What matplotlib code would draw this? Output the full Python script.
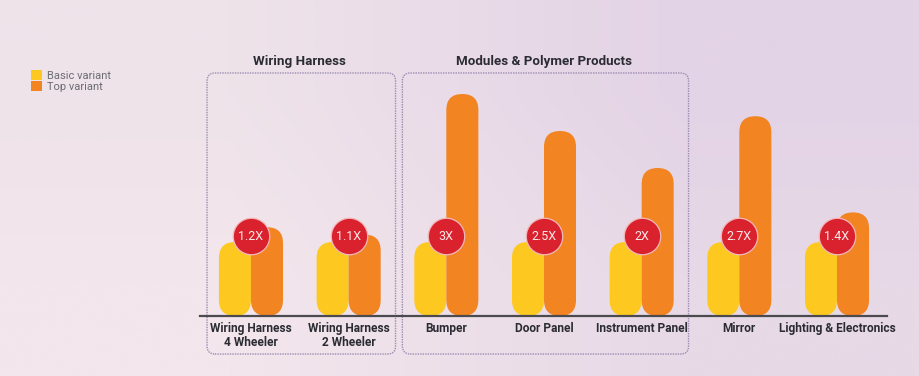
import numpy as np
import matplotlib
matplotlib.use("Agg")
import matplotlib.pyplot as plt
from matplotlib.patches import FancyBboxPatch, Patch

# categories and values (basic variant = 1 unit, top variant = multiple of basic)
categories = ["Wiring Harness\n4 Wheeler", "Wiring Harness\n2 Wheeler", "Bumper",
              "Door Panel", "Instrument Panel", "Mirror", "Lighting & Electronics"]
basic = [1, 1, 1, 1, 1, 1, 1]
top = [1.2, 1.1, 3, 2.5, 2, 2.7, 1.4]
groups = [("Wiring Harness", 0, 1), ("Modules & Polymer Products", 2, 4)]

YELLOW = "#fdc921"
ORANGE = "#f28422"
RED = "#d9222e"
INK = "#2b2b33"

W, H = 919, 376
fig = plt.figure(figsize=(W / 100, H / 100), dpi=100)

# soft diagonal background wash
bg = fig.add_axes([0, 0, 1, 1], zorder=-5)
corners = np.array([[[239, 227, 234], [227, 211, 230]],
                    [[243, 230, 236], [231, 217, 230]]]) / 255
bg.imshow(corners, extent=[0, 1, 0, 1], aspect="auto", interpolation="bilinear")
bg.set_axis_off()

ax = fig.add_axes([200 / W, (H - 316) / H, 687 / W, 243 / H])
ax.set_facecolor("none")
ax.set_xlim(-0.522, 6.512)
ax.set_ylim(0, 3.284)

# pixel scale of each axis, used to keep bar ends round
px_x = 687 / (6.512 + 0.522)
px_y = 243 / 3.284
aspect = px_x / px_y

bw = 0.328
x = np.arange(len(categories))
for i in x:
    for val, off, col in [(basic[i], -bw / 2, YELLOW), (top[i], bw / 2, ORANGE)]:
        p = FancyBboxPatch((i + off - bw / 2, 0), bw, val,
                           boxstyle=f"round,pad=0,rounding_size={bw / 2}",
                           mutation_aspect=aspect, fc=col, ec="none", zorder=2)
        ax.add_patch(p)

# multiplier badges
ax.scatter(x, np.array(basic) + 0.08, s=690, c=RED, edgecolors="#f3b9bb",
           linewidths=0.9, zorder=4)
for i in x:
    ax.text(i, basic[i] + 0.08, f"{top[i]:g}X", color="#fbe9ea", ha="center",
            va="center", fontsize=9, family="Roboto", zorder=5)

# baseline
for s in ["top", "right", "left"]:
    ax.spines[s].set_visible(False)
ax.spines["bottom"].set_color("#4a4a4f")
ax.spines["bottom"].set_linewidth(1.6)
ax.set_yticks([])
ax.set_xticks(x, categories, fontsize=8.6, fontweight="bold", family="Roboto",
              color=INK, linespacing=1.15)
ax.tick_params(axis="x", length=0, pad=4)

# dotted group boxes with titles
for name, a, b in groups:
    box = FancyBboxPatch((a - 0.45, -0.514), (b - a) + 0.93, 3.284 + 0.514,
                         boxstyle="round,pad=0,rounding_size=0.08",
                         mutation_aspect=aspect, fc="none", ec="#9a8cb2",
                         lw=1.0, ls=(0, (1, 0.8)), clip_on=False, zorder=1)
    ax.add_patch(box)
    ax.text((a + b) / 2, 3.44, name, ha="center", va="center", fontsize=9.6,
            fontweight="bold", family="Roboto", color=INK, clip_on=False)

# legend
handles = [Patch(fc=YELLOW, ec="none", label="Basic variant"),
           Patch(fc=ORANGE, ec="none", label="Top variant")]
fig.legend(handles=handles, loc="upper left", bbox_to_anchor=(21 / W, 1 - 60 / H),
           frameon=False, labelcolor="#6b6b72", handlelength=1.0,
           handleheight=1.05, handletextpad=0.4, labelspacing=0.0,
           prop={"family": "Roboto", "size": 8})

fig.savefig("out.png", dpi=100)
